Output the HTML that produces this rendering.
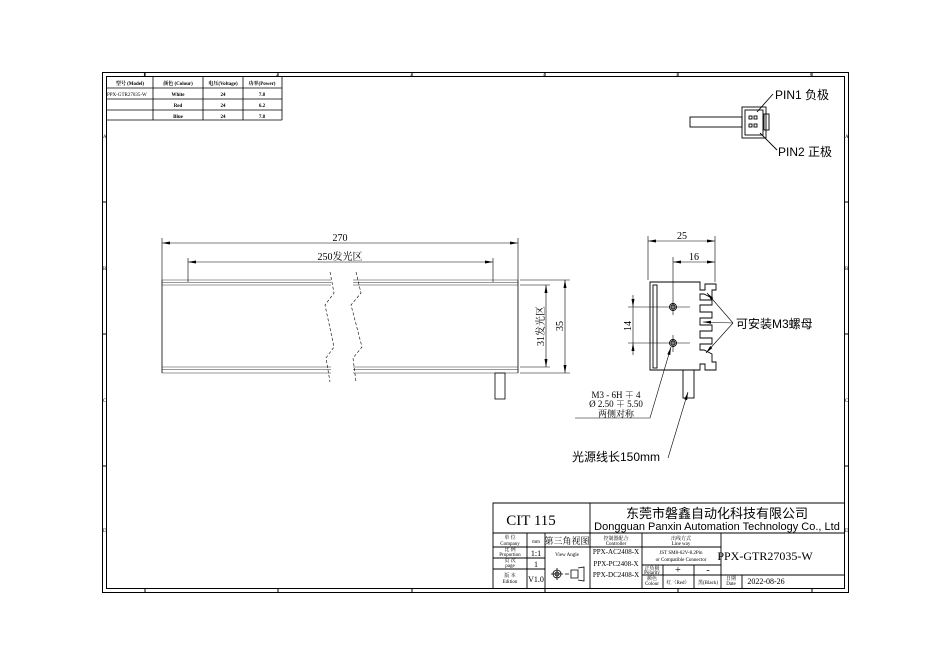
<!DOCTYPE html>
<html><head><meta charset="utf-8"><style>
html,body{margin:0;padding:0;background:#fff;}
svg{display:block;}
text{font-family:"Liberation Serif","Noto Serif CJK SC",serif;fill:#000;}
.s{font-family:"Liberation Sans","Noto Sans CJK SC",sans-serif;}
</style></head><body>
<svg width="951" height="670" viewBox="0 0 951 670" xmlns="http://www.w3.org/2000/svg">
<defs>
<marker id="a" markerWidth="8" markerHeight="6" refX="8" refY="3" orient="auto-start-reverse" markerUnits="userSpaceOnUse"><path d="M0,1.5 L8,3 L0,4.5 z" fill="#000"/></marker>
</defs>
<g fill="none" stroke="#000" stroke-width="1">
<rect x="102.5" y="72.5" width="746" height="520"/>
<rect x="106.5" y="76.5" width="738" height="512"/>
<path d="M145 72v4M278 72v4M412 72v4M545 72v4M678 72v4M812 72v4 M145 589v4M278 589v4M412 589v4M545 589v4M678 589v4M812 589v4 M102 202h4M102 334h4M102 466h4M845 202h4M845 334h4M845 466h4"/>
</g>
<g class="s" font-size="5">
<text x="143" y="76">1</text><text x="276" y="76">2</text><text x="410" y="76">3</text><text x="543" y="76">4</text><text x="676" y="76">5</text><text x="810" y="76">6</text>
<text x="103" y="138">A</text><text x="103" y="270">B</text><text x="103" y="402">C</text><text x="103" y="532">D</text>
<text x="845" y="138">A</text><text x="845" y="270">B</text><text x="845" y="402">C</text><text x="845" y="532">D</text>
</g>
<g fill="none" stroke="#000" stroke-width="0.8">
<path d="M106 88h176M106 99h176M106 110h176M106 120h176M153 77v43M203 77v43M243 77v43M282 77v43"/>
</g>
<g class="s" font-size="5" text-anchor="middle" font-weight="bold">
<text x="130" y="85">型号 (Model)</text><text x="178" y="85">颜色 (Colour)</text><text x="223" y="85">电压(Voltage)</text><text x="262" y="85">功率(Power)</text>
<text x="178" y="96">White</text><text x="223" y="96">24</text><text x="262" y="96">7.8</text>
<text x="178" y="107">Red</text><text x="223" y="107">24</text><text x="262" y="107">6.2</text>
<text x="178" y="118">Blue</text><text x="223" y="118">24</text><text x="262" y="118">7.8</text>
</g>
<text x="107" y="96" font-size="5">PPX-GTR27035-W</text>

<g fill="none" stroke="#000" stroke-width="0.9">
<rect x="690" y="117" width="52" height="10"/>
<rect x="742" y="107" width="24" height="31"/>
<rect x="745" y="110" width="18" height="25"/>
<rect x="764" y="114" width="5" height="16"/>
<rect x="749" y="116" width="3" height="3"/><rect x="754" y="116" width="3" height="3"/>
<rect x="749" y="124" width="3" height="3"/><rect x="754" y="124" width="3" height="3"/>
<path d="M757 112 L773 94 M760 133 L777 150"/>
</g>
<text x="775" y="99" class="s" font-size="12">PIN1 负极</text>
<text x="778" y="156" class="s" font-size="12">PIN2 正极</text>

<g fill="none" stroke="#000" stroke-width="0.8">
<g stroke-width="0.5" stroke="#333">
<path d="M162 280H331M162 282.5H331M162 285H331M162 367H331M162 369.5H331M162 373H331M353 280H518M353 282.5H518M353 285H518M353 367H518M353 369.5H518M353 373H518"/>
</g>
<path d="M162 280V373M518 280V373"/>
<path d="M330 272L334 293L325 305L334 347L326 358L330 382M356 272L361 293L351 305L362 347L353 358L356 382" stroke-dasharray="3,2" stroke-width="0.6"/>
<rect x="495" y="373" width="10" height="26"/>
<path d="M162 280V238M518 280V238M188 282V258M493 282V258M520 280H570M520 285H550M520 367H550M520 373H570" stroke-width="0.6"/>
<path d="M162 243H518" marker-start="url(#a)" marker-end="url(#a)" stroke-width="0.6"/>
<path d="M188 262H493" marker-start="url(#a)" marker-end="url(#a)" stroke-width="0.6"/>
<path d="M565 280V373" marker-start="url(#a)" marker-end="url(#a)" stroke-width="0.6"/>
<path d="M546 285V367" marker-start="url(#a)" marker-end="url(#a)" stroke-width="0.6"/>
</g>
<text x="340" y="241" font-size="10" text-anchor="middle">270</text>
<text x="340" y="260" font-size="10" text-anchor="middle">250发光区</text>
<text transform="translate(544,326) rotate(-90)" font-size="10" text-anchor="middle">31发光区</text>
<text transform="translate(563,326) rotate(-90)" font-size="10" text-anchor="middle">35</text>

<g fill="none" stroke="#000" stroke-width="0.9">
<path d="M650 282H700V290H705V284H716V290H712V298L704 294H700V300H712V305H700V312H712V318H700V325H712V331H700V338H712V344H700V350H704L712 354V362H716V370H705V364H700V370H650Z"/>
<rect x="653" y="285" width="4" height="83"/>
<circle cx="673" cy="307" r="3.5"/><circle cx="673" cy="307" r="2"/>
<circle cx="673" cy="343" r="3.5"/><circle cx="673" cy="343" r="2"/>
<rect x="683" y="370" width="11" height="28"/>
</g>
<g fill="none" stroke="#000" stroke-width="0.6">
<path d="M648 280V236M715 280V236M673 300V257M715 282V257"/>
<path d="M648 241H715" marker-start="url(#a)" marker-end="url(#a)"/>
<path d="M673 262H715" marker-start="url(#a)" marker-end="url(#a)"/>
<path d="M628 307H690M628 343H690M673 300V315M673 335V352"/>
<path d="M633 295V307" marker-end="url(#a)"/><path d="M633 355V343" marker-end="url(#a)"/>
<path d="M633 307V343"/>
<path d="M733 323L707 293" marker-end="url(#a)"/><path d="M733 323L703 322" marker-end="url(#a)"/><path d="M733 323L706 353" marker-end="url(#a)"/>
<path d="M575 418H650L671 347" marker-end="url(#a)"/>
<path d="M668 458L688 392" marker-end="url(#a)"/>
</g>
<text x="682" y="239" font-size="10" text-anchor="middle">25</text>
<text x="694" y="260" font-size="10" text-anchor="middle">16</text>
<text transform="translate(631,326) rotate(-90)" font-size="10" text-anchor="middle">14</text>
<text x="736" y="328" class="s" font-size="12">可安装M3螺母</text>
<g font-size="9" text-anchor="middle"><text x="616" y="398">M3 - 6H ∓ 4</text><text x="616" y="407">Ø 2.50 ∓ 5.50</text><text x="616" y="417">两侧对称</text></g>
<text x="572" y="461" class="s" font-size="12">光源线长150mm</text>

<g fill="none" stroke="#000" stroke-width="0.9">
<path d="M493 589V503H844M493 533H844M590 503V589M527 533V589M545 533V589M642 533V589M721 533V589M742 575V589M493 547H721M493 558H545M493 569H545M642 565H721M642 575H844M663 565V589M694 565V589"/>
</g>
<text x="531" y="525" font-size="15" text-anchor="middle">CIT 115</text>
<text x="717" y="518" class="s" font-size="13" text-anchor="middle">东莞市磐鑫自动化科技有限公司</text>
<text x="717" y="530" class="s" font-size="11" text-anchor="middle">Dongguan Panxin Automation Technology Co., Ltd</text>
<g font-size="5" text-anchor="middle">
<text x="510" y="539">单 位</text><text x="510" y="545">Company</text>
<text x="510" y="551">比 例</text><text x="510" y="556">Proportion</text>
<text x="510" y="562">页 次</text><text x="510" y="567">page</text>
<text x="510" y="577">版 本</text><text x="510" y="583">Edition</text>
<text x="536" y="543">mm</text>
<text x="616" y="540">控制器配合</text><text x="616" y="545">Controller</text>
<text x="681" y="540">出线方式</text><text x="681" y="545">Line way</text>
<text x="681" y="554">JST SM8-62V-8.2Pin</text><text x="681" y="561">or Compatible Connector</text>
<text x="652" y="570">正负极</text><text x="652" y="574">Polarity</text>
<text x="652" y="580">颜色</text><text x="652" y="585">Colour</text>
<text x="678" y="584">红（Red）</text><text x="708" y="584">黑(Black)</text>
<text x="731" y="580">日期</text><text x="731" y="585">Date</text>
<text x="567" y="556">View Angle</text>
</g>
<g font-size="7" text-anchor="middle">
<text x="536" y="556" font-size="8">1:1</text><text x="536" y="567" font-size="8">1</text><text x="536" y="582" font-size="8">V1.0</text>
<text x="567" y="544" font-size="9">第三角视图</text>
<text x="616" y="554">PPX-AC2408-X</text><text x="616" y="566">PPX-PC2408-X</text><text x="616" y="577">PPX-DC2408-X</text>
<text x="678" y="573" font-size="10">+</text><text x="708" y="573" font-size="10">-</text>
<text x="766" y="584" font-size="8">2022-08-26</text>
</g>
<text x="765" y="560" font-size="12" text-anchor="middle">PPX-GTR27035-W</text>
<g fill="none" stroke="#000" stroke-width="0.8">
<circle cx="557" cy="574" r="4"/><circle cx="557" cy="574" r="2"/><path d="M551 574h12M557 568v12M565 574h4M571 570h7v8h-7zM578 568l6 -1v14l-6 -1"/>
</g>
</svg>
</body></html>
